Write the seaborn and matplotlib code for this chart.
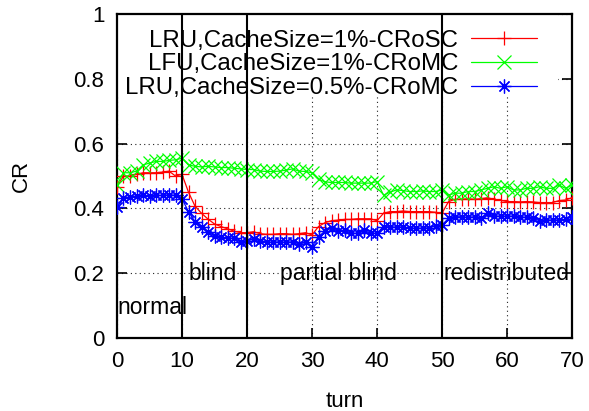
import matplotlib
matplotlib.use("Agg")
import matplotlib.pyplot as plt
import seaborn as sns
import numpy as np
import pandas as pd
from matplotlib.patches import Rectangle

turns = list(range(0, 71))

lru_1_crosc = [0.467, 0.50, 0.50, 0.505, 0.51, 0.51, 0.51, 0.512, 0.515, 0.50,
               0.505, 0.45, 0.407, 0.385, 0.367, 0.352, 0.344, 0.337, 0.33, 0.325,
               0.325, 0.328, 0.322, 0.32, 0.32, 0.322, 0.322, 0.32, 0.322, 0.325,
               0.318, 0.344, 0.356, 0.362, 0.364, 0.366, 0.366, 0.368, 0.368, 0.368,
               0.362, 0.385, 0.39, 0.39, 0.392, 0.39, 0.39, 0.39, 0.39, 0.388,
               0.385, 0.421, 0.428, 0.428, 0.43, 0.428, 0.43, 0.433, 0.428, 0.425,
               0.421, 0.421, 0.42, 0.421, 0.42, 0.418, 0.418, 0.418, 0.424, 0.426,
               0.433]

lfu_1_cromc = [0.472, 0.51, 0.51, 0.515, 0.534, 0.54, 0.545, 0.545, 0.548, 0.55,
               0.555, 0.534, 0.53, 0.528, 0.53, 0.528, 0.526, 0.526, 0.524, 0.522,
               0.52, 0.52, 0.515, 0.514, 0.514, 0.515, 0.518, 0.522, 0.515, 0.514,
               0.51, 0.49, 0.482, 0.48, 0.48, 0.48, 0.478, 0.478, 0.478, 0.478,
               0.483, 0.441, 0.45, 0.457, 0.455, 0.452, 0.452, 0.454, 0.452, 0.452,
               0.457, 0.441, 0.447, 0.447, 0.452, 0.452, 0.457, 0.462, 0.467, 0.462,
               0.467, 0.457, 0.457, 0.462, 0.462, 0.467, 0.462, 0.462, 0.472, 0.462,
               0.472]

lru_05_cromc = [0.405, 0.431, 0.436, 0.438, 0.44, 0.438, 0.44, 0.44, 0.442, 0.44,
                0.43, 0.39, 0.359, 0.344, 0.328, 0.315, 0.311, 0.308, 0.308, 0.297,
                0.30, 0.305, 0.30, 0.297, 0.295, 0.297, 0.295, 0.297, 0.29, 0.295,
                0.282, 0.313, 0.33, 0.339, 0.33, 0.333, 0.323, 0.323, 0.333, 0.323,
                0.323, 0.344, 0.343, 0.342, 0.343, 0.339, 0.339, 0.339, 0.34, 0.346,
                0.349, 0.369, 0.374, 0.374, 0.372, 0.374, 0.369, 0.385, 0.376, 0.376,
                0.376, 0.376, 0.374, 0.372, 0.369, 0.362, 0.364, 0.364, 0.364, 0.366,
                0.374]

series_labels = ["LRU,CacheSize=1%-CRoSC", "LFU,CacheSize=1%-CRoMC", "LRU,CacheSize=0.5%-CRoMC"]
series_colors = ["#ff0000", "#00ff00", "#0000ff"]
series_markers = ["+", "x", (8, 2, 0)]

phase_bounds = [10, 20, 50]
phase_names = ["normal", "blind", "partial blind", "redistributed"]
phase_x = [0, 11, 25, 50.2]
phase_y = [0.093, 0.2, 0.2, 0.2]

xticks = [0, 10, 20, 30, 40, 50, 60, 70]
yticks = [0, 0.2, 0.4, 0.6, 0.8, 1]
ytick_labels = ["0", "0.2", "0.4", "0.6", "0.8", "1"]

sns.set_theme(style="white")
plt.rcParams['font.family'] = ['Liberation Sans', 'DejaVu Sans']
plt.rcParams['text.color'] = 'black'
plt.rcParams['axes.labelcolor'] = 'black'
plt.rcParams['xtick.color'] = 'black'
plt.rcParams['ytick.color'] = 'black'

fig = plt.figure(figsize=(5.89, 4.11), dpi=100)
ax = fig.add_axes([117/589, 1 - 338/411, (572 - 117)/589, (338 - 14)/411])

for vals, lab, col, mk in zip([lru_1_crosc, lfu_1_cromc, lru_05_cromc],
                              series_labels, series_colors, series_markers):
    df = pd.DataFrame({"turn": turns, "CR": vals})
    sns.lineplot(data=df, x="turn", y="CR", ax=ax, color=col, label=lab,
                 marker=mk, markersize=10, markeredgewidth=0.9, linewidth=0.9,
                 markeredgecolor=col, zorder=3)

ax.set_xlim(0, 70)
ax.set_ylim(0, 1)
ax.set_xticks(xticks)
ax.set_yticks(yticks)
ax.set_yticklabels(ytick_labels)
ax.grid(True, linestyle=(0, (1, 3)), color="#222222", linewidth=0.8)
ax.set_axisbelow(True)

for b in phase_bounds:
    ax.axvline(b, color="black", linewidth=1.5, zorder=6)

for name, xx, yy in zip(phase_names, phase_x, phase_y):
    ax.text(xx, yy, name, fontsize=16.5, va="center", ha="left", zorder=4)

# opaque legend background (gnuplot style key box without border)
ax.add_patch(Rectangle((0, 0.744), 0.969, 0.256, transform=ax.transAxes,
                       facecolor="white", edgecolor="none", zorder=1))

leg = ax.legend(loc="upper right", bbox_to_anchor=(0.961, 1.004), frameon=False,
                markerfirst=False, fontsize=17.3, handlelength=2.75,
                labelspacing=0.08, handletextpad=0.55, borderpad=0.2)

ax.set_xlabel("turn", fontsize=16, labelpad=14)
ax.set_ylabel("CR", fontsize=16, labelpad=30)
ax.tick_params(axis="both", which="both", direction="in", length=7, width=1.2,
               labelsize=16, pad=9, top=True, right=True, bottom=True, left=True,
               colors="black")
for sp in ax.spines.values():
    sp.set_linewidth(1.6)
    sp.set_color("black")

fig.savefig("out.png", dpi=100)
